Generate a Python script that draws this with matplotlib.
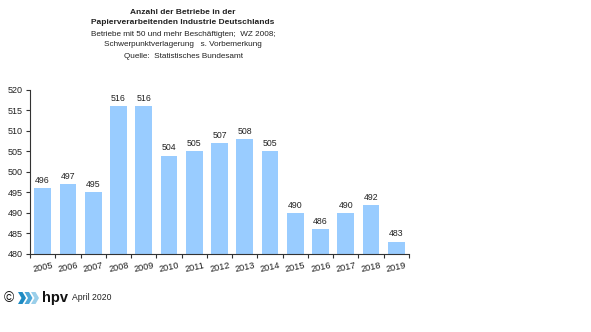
import matplotlib
matplotlib.use("Agg")
import matplotlib.pyplot as plt
from matplotlib.patches import Polygon

plt.rcParams['font.family'] = ['Liberation Sans', 'DejaVu Sans']

years = ["2005", "2006", "2007", "2008", "2009", "2010", "2011", "2012",
         "2013", "2014", "2015", "2016", "2017", "2018", "2019"]
betriebe = [496, 497, 495, 516, 516, 504, 505, 507, 508, 505, 490, 486, 490, 492, 483]
y_ticks = [480, 485, 490, 495, 500, 505, 510, 515, 520]

W, H = 591, 332
fig = plt.figure(figsize=(W / 100, H / 100), dpi=100)
ax = fig.add_axes([30 / W, 1 - 254 / H, 379 / W, 164 / H])

x = list(range(len(years)))
ax.bar(x, betriebe, width=0.66, color="#99CCFF", zorder=2)
for xi, v in zip(x, betriebe):
    ax.text(xi, v + 0.8, str(v), ha="center", va="bottom", fontsize=6.3, color="#222222")

ax.set_xlim(-0.5, len(years) - 0.5)
ax.set_ylim(480, 520)
ax.set_yticks(y_ticks)
ax.set_yticklabels([str(t) for t in y_ticks], fontsize=6.5, color="#222222")
ax.set_xticks([i - 0.5 for i in range(len(years) + 1)])
ax.set_xticklabels([])
ax.set_xticks(x, minor=True)
ax.set_xticklabels(years, minor=True, fontsize=6.6, rotation=12, color="#222222")
ax.tick_params(axis="x", which="minor", length=0, pad=5)
ax.tick_params(axis="x", which="major", length=3, width=0.8, color="#333333")
ax.tick_params(axis="y", length=3, width=0.8, color="#333333", pad=2)
for side in ("top", "right"):
    ax.spines[side].set_visible(False)
for side in ("left", "bottom"):
    ax.spines[side].set_linewidth(0.8)
    ax.spines[side].set_color("#333333")

# Title block
cx = 183 / W
fig.text(cx, 1 - 12 / H, "Anzahl der Betriebe in der", ha="center", va="center",
         fontsize=6.0, fontweight="bold", color="#222222")
fig.text(cx, 1 - 23 / H, "Papierverarbeitenden Industrie Deutschlands", ha="center", va="center",
         fontsize=6.0, fontweight="bold", color="#222222")
fig.text(cx, 1 - 34 / H, "Betriebe mit 50 und mehr Beschäftigten;  WZ 2008;", ha="center",
         va="center", fontsize=5.9, color="#222222")
fig.text(cx, 1 - 45 / H, "Schwerpunktverlagerung   s. Vorbemerkung", ha="center",
         va="center", fontsize=5.9, color="#222222")
fig.text(cx, 1 - 56 / H, "Quelle:  Statistisches Bundesamt", ha="center",
         va="center", fontsize=5.9, color="#222222")

# Footer: copyright mark, logo and date
fig.text(4 / W, 1 - 298 / H, "©", ha="left", va="center", fontsize=10, color="#111111")
chev_colors = ["#1E8BC3", "#4FA8D8", "#9ACFEA"]
for i, c in enumerate(chev_colors):
    x0 = 18 + i * 6.5
    pts = [(x0, 292), (x0 + 4.5, 292), (x0 + 8, 298), (x0 + 4.5, 304), (x0, 304), (x0 + 3.5, 298)]
    fig.patches.append(Polygon([(px / W, 1 - py / H) for px, py in pts], closed=True,
                               transform=fig.transFigure, facecolor=c, edgecolor="none"))
fig.text(42 / W, 1 - 298 / H, "hpv", ha="left", va="center", fontsize=10.5,
         fontweight="bold", color="#111111")
fig.text(72 / W, 1 - 298 / H, "April 2020", ha="left", va="center", fontsize=6.2, color="#222222")

fig.savefig("out.png", dpi=100, facecolor="white")
